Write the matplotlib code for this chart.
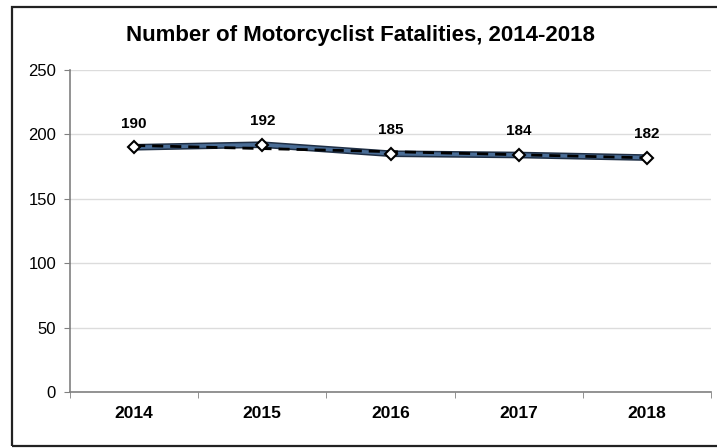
import matplotlib
matplotlib.use("Agg")
import matplotlib.pyplot as plt
import numpy as np
from matplotlib.patches import Rectangle

plt.rcParams["font.family"] = ["Liberation Sans", "DejaVu Sans"]

years = ["2014", "2015", "2016", "2017", "2018"]
fatalities = [190, 192, 185, 184, 182]
y_ticks = [0, 50, 100, 150, 200, 250]

W, H = 717, 448
fig = plt.figure(figsize=(W / 100, H / 100), dpi=100)
ax = fig.add_axes([70 / W, 1 - 392 / H, (711 - 70) / W, (392 - 70) / H])

x = np.arange(len(years))

# main series
ax.plot(x, fatalities, color="#1f2f45", lw=4.8, zorder=3, solid_capstyle="round")
ax.plot(x, fatalities, color="#4a6d96", lw=2.6, zorder=3, solid_capstyle="round")

# linear trend line
coef = np.polyfit(x, fatalities, 1)
ax.plot(x, np.polyval(coef, x), color="black", lw=2, ls=(0, (4, 2.5)), zorder=4)

ax.plot(x, fatalities, ls="none", marker="D", ms=6.5, mfc="white", mec="black",
        mew=1.5, zorder=5)

for xi, v in zip(x, fatalities):
    ax.annotate(str(v), (xi, v), xytext=(0, 17), textcoords="offset points",
                ha="center", va="center", fontsize=11, fontweight="bold")

ax.set_xlim(-0.5, len(years) - 0.5)
ax.set_ylim(0, 250)
ax.set_yticks(y_ticks)
ax.set_xticks(x)
ax.set_xticklabels(years, fontsize=12.5, fontweight="bold")
ax.tick_params(axis="x", length=0, pad=10)
ax.set_xticks(np.arange(-0.5, len(years)), minor=True)
ax.tick_params(axis="x", which="minor", length=4, color="#808080", direction="out")
ax.tick_params(axis="y", length=4, color="#808080", labelsize=12, pad=6)

ax.grid(axis="y", color="#dcdcdc", lw=1)
ax.set_axisbelow(True)
for s in ["top", "right"]:
    ax.spines[s].set_visible(False)
for s in ["left", "bottom"]:
    ax.spines[s].set_color("#808080")
    ax.spines[s].set_linewidth(1.2)

fig.text(360 / W, 1 - 35 / H, "Number of Motorcyclist Fatalities, 2014-2018",
         ha="center", va="center", fontsize=16, fontweight="bold")

# outer chart border
fig.add_artist(Rectangle((12 / W, 1 - 446 / H), (730 - 12) / W, (446 - 7) / H,
                         transform=fig.transFigure, fill=False, ec="#222222", lw=1.6))

fig.savefig("out.png", dpi=100)
